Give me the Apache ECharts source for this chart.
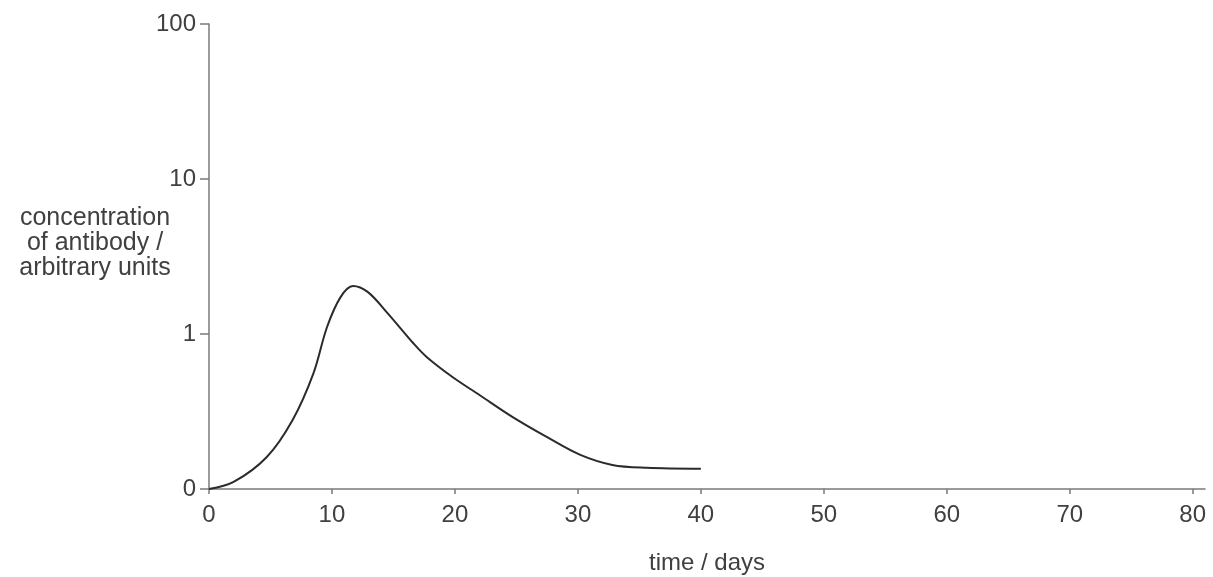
<!DOCTYPE html>
<html>
<head>
<meta charset="utf-8">
<script src="https://cdn.jsdelivr.net/npm/echarts@6/dist/echarts.min.js"></script>
<style>
  html, body { margin: 0; padding: 0; background: #fff; }
  #chart { width: 1213px; height: 577px; }
</style>
</head>
<body>
<div id="chart"></div>
<script>
// values (y is a log scale, bottom "0" drawn at 0.1)
var days = [0, 2, 4.7, 6.8, 8.5, 9.6, 10.7, 11.7, 12.9, 14.5, 16.6, 17.7, 19.8, 22, 24.7, 27.5, 30.2, 32.8, 35.6, 40];
var conc = [0.1, 0.111, 0.161, 0.279, 0.56, 1.11, 1.73, 2.04, 1.87, 1.37, 0.875, 0.711, 0.528, 0.404, 0.291, 0.216, 0.166, 0.143, 0.137, 0.135];
var xTicks = [0, 10, 20, 30, 40, 50, 60, 70, 80];
var yTicks = [0.1, 1, 10, 100];
var yTickText = ['0', '1', '10', '100'];

var points = [];
for (var i = 0; i < days.length; i++) {
    points.push([days[i], conc[i]]);
}

var font = '"Liberation Sans", Arial, sans-serif';
var axisColor = '#7a7a7a';
var textColor = '#404040';

var chart = echarts.init(document.getElementById('chart'));
chart.setOption({
    animation: false,
    grid: { left: 209, right: 8, top: 24, bottom: 88, outerBoundsMode: 'none', containLabel: false },
    xAxis: {
        type: 'value',
        min: 0,
        max: 81,
        interval: 10,
        name: 'time / days',
        nameLocation: 'middle',
        nameGap: 62,
        nameTextStyle: { color: textColor, fontSize: 24, fontFamily: font },
        axisLine: { lineStyle: { color: axisColor, width: 1.5 } },
        axisTick: { show: true, length: 5, customValues: xTicks, lineStyle: { color: axisColor, width: 1.5 } },
        axisLabel: { customValues: xTicks, margin: 14, color: textColor, fontSize: 24, fontFamily: font },
        splitLine: { show: false }
    },
    yAxis: {
        type: 'log',
        logBase: 10,
        min: 0.1,
        max: 100,
        axisLine: { show: true, lineStyle: { color: axisColor, width: 1.5 } },
        axisTick: { show: true, length: 9, lineStyle: { color: axisColor, width: 1.5 } },
        axisLabel: {
            margin: 13,
            color: textColor,
            fontSize: 24,
            fontFamily: font,
            formatter: function (v) {
                var idx = -1;
                for (var k = 0; k < yTicks.length; k++) {
                    if (Math.abs(v - yTicks[k]) < 1e-6 * yTicks[k]) idx = k;
                }
                return idx >= 0 ? yTickText[idx] : '';
            }
        },
        splitLine: { show: false }
    },
    graphic: [{
        type: 'text',
        x: 95,
        y: 206,
        style: {
            text: 'concentration\nof antibody /\narbitrary units',
            align: 'center',
            lineHeight: 25,
            fill: textColor,
            fontSize: 25,
            fontFamily: font
        }
    }],
    series: [{
        type: 'line',
        data: points,
        smooth: 0.35,
        showSymbol: false,
        lineStyle: { color: '#2b2b2b', width: 2 }
    }]
});
</script>
</body>
</html>
